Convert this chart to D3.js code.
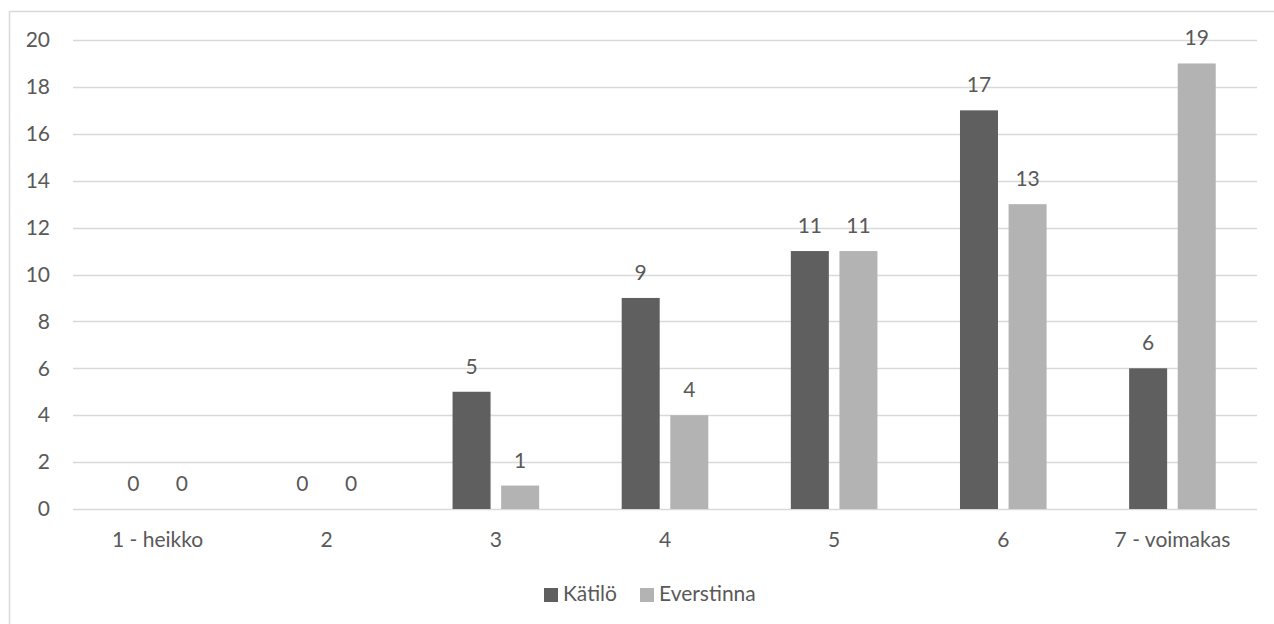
<!DOCTYPE html>
<html>
<head>
<meta charset="utf-8">
<script src="https://cdn.jsdelivr.net/npm/d3@7"></script>
<style>
  html, body { margin: 0; padding: 0; background: #ffffff; }
  svg { display: block; }
  text { font-family: Lato, "Open Sans", sans-serif; fill: #595959; }
</style>
</head>
<body>
<svg id="chart" width="1274" height="624"></svg>
<script>
// Rating categories on the x axis
const categories = ["1 - heikko", "2", "3", "4", "5", "6", "7 - voimakas"];
// Series names and counts per category
const seriesNames = ["Kätilö", "Everstinna"];
const katiloValues = [0, 0, 5, 9, 11, 17, 6];
const everstinnaValues = [0, 0, 1, 4, 11, 13, 19];
// Y axis tick labels
const yTicks = [0, 2, 4, 6, 8, 10, 12, 14, 16, 18, 20];

const colors = { "Kätilö": "#5f5f5f", "Everstinna": "#b3b3b3" };

const svg = d3.select("#chart");
const W = 1274, H = 624;
const plot = { left: 73, right: 1257, top: 40, bottom: 509 };
const fontSize = 21;

// Chart frame
svg.append("rect")
  .attr("x", 9.5).attr("y", 11.5)
  .attr("width", W + 10).attr("height", H + 10)
  .attr("fill", "none").attr("stroke", "#d9d9d9").attr("stroke-width", 1.5);

const x0 = d3.scaleBand().domain(categories).range([plot.left, plot.right]).padding(0);
const step = x0.bandwidth();
const groupW = 86.6;
const x1 = d3.scaleBand().domain(seriesNames)
  .range([step / 2 - groupW / 2, step / 2 + groupW / 2])
  .paddingInner(0.218).paddingOuter(0);
const y = d3.scaleLinear().domain([0, 20]).range([plot.bottom, plot.top]);

// Horizontal gridlines
svg.append("g")
  .selectAll("line")
  .data(yTicks)
  .join("line")
  .attr("x1", plot.left).attr("x2", plot.right)
  .attr("y1", d => Math.round(y(d)) + 0.5).attr("y2", d => Math.round(y(d)) + 0.5)
  .attr("stroke", "#d9d9d9").attr("stroke-width", 1.5);

// Y axis labels
const yAxis = d3.axisLeft(y).tickValues(yTicks).tickSize(0).tickPadding(0);
const yg = svg.append("g").attr("transform", `translate(50,0)`).call(yAxis);
yg.select(".domain").remove();
yg.selectAll("text").attr("font-size", fontSize).attr("font-family", "Lato, 'Open Sans', sans-serif").attr("fill", "#595959");

// X axis labels
const xAxis = d3.axisBottom(x0).tickSize(0).tickPadding(0);
const xg = svg.append("g").attr("transform", `translate(0,${plot.bottom})`).call(xAxis);
xg.select(".domain").remove();
xg.selectAll("text").attr("dy", null).attr("y", 38)
  .attr("font-size", fontSize).attr("font-family", "Lato, 'Open Sans', sans-serif").attr("fill", "#595959");

const rows = categories.map((c, i) => ({
  cat: c,
  vals: [
    { name: "Kätilö", value: katiloValues[i] },
    { name: "Everstinna", value: everstinnaValues[i] }
  ]
}));

const groups = svg.append("g").selectAll("g")
  .data(rows)
  .join("g")
  .attr("transform", d => `translate(${x0(d.cat)},0)`);

groups.selectAll("rect")
  .data(d => d.vals)
  .join("rect")
  .attr("x", d => x1(d.name))
  .attr("width", x1.bandwidth())
  .attr("y", d => y(d.value))
  .attr("height", d => y(0) - y(d.value))
  .attr("fill", d => colors[d.name]);

// Value labels above bars
groups.selectAll("text.val")
  .data(d => d.vals)
  .join("text")
  .attr("class", "val")
  .attr("x", d => x1(d.name) + x1.bandwidth() / 2)
  .attr("y", d => y(d.value) - 18)
  .attr("text-anchor", "middle")
  .attr("font-size", fontSize)
  .text(d => d.value);

// Legend
const legendItems = [
  { name: "Kätilö", x: 544 },
  { name: "Everstinna", x: 640 }
];
const lg = svg.append("g");
lg.selectAll("rect")
  .data(legendItems)
  .join("rect")
  .attr("x", d => d.x).attr("y", 588)
  .attr("width", 14).attr("height", 14)
  .attr("fill", d => colors[d.name]);
lg.selectAll("text")
  .data(legendItems)
  .join("text")
  .attr("x", d => d.x + 19).attr("y", 601)
  .attr("font-size", fontSize)
  .text(d => d.name);
</script>
</body>
</html>
